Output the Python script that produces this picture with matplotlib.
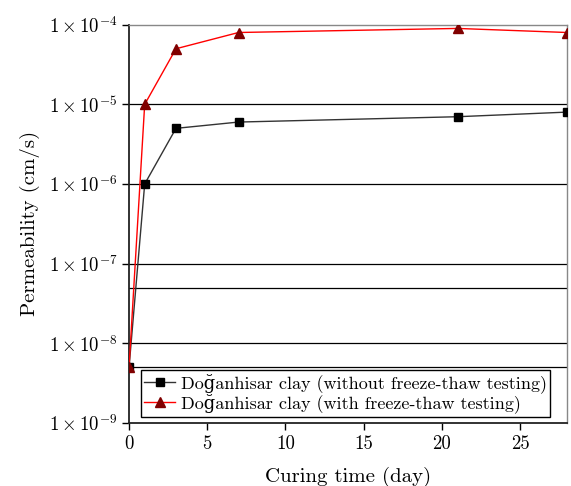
import math
import matplotlib
matplotlib.use("Agg")
import matplotlib.pyplot as plt
from matplotlib.ticker import FixedLocator, FuncFormatter

plt.rcParams['font.family'] = ['cmr10', 'DejaVu Serif']
plt.rcParams['mathtext.fontset'] = 'cm'
plt.rcParams['axes.unicode_minus'] = False

# data
days = [0, 1, 3, 7, 21, 28]
perm_no_ft = [5e-9, 1e-6, 5e-6, 6e-6, 7e-6, 8e-6]
perm_ft = [5e-9, 1e-5, 5e-5, 8e-5, 9e-5, 8e-5]
grid_levels = [1e-5, 1e-6, 1e-7, 5e-8, 1e-8, 5e-9]
y_ticks = [1e-9, 1e-8, 1e-7, 1e-6, 1e-5, 1e-4]
x_ticks = [0, 5, 10, 15, 20, 25]

fig = plt.figure(figsize=(5.71, 4.86), dpi=100)
ax = fig.add_axes([0.226, 0.130, 0.767, 0.819])

for g in grid_levels:
    ax.axhline(g, color='black', lw=0.9, zorder=1)

ax.plot(days, perm_no_ft, color='#333333', lw=1.0, marker='s', ms=5.5,
        mfc='black', mec='black', zorder=3,
        label='Do\u011fanhisar clay (without freeze-thaw testing)')
ax.plot(days, perm_ft, color='red', lw=1.0, marker='^', ms=6.5,
        mfc='#800000', mec='#800000', zorder=3,
        label='Do\u011fanhisar clay (with freeze-thaw testing)')

ax.set_yscale('log')
ax.set_ylim(1e-9, 1e-4)
ax.set_xlim(0, 28)
ax.yaxis.set_major_locator(FixedLocator(y_ticks))
ax.yaxis.set_minor_locator(FixedLocator([]))
ax.yaxis.set_major_formatter(FuncFormatter(
    lambda v, p: r'$1\times10^{%d}$' % round(math.log10(v))))
ax.set_xticks(x_ticks)

ax.tick_params(axis='both', direction='out', length=5, width=1, labelsize=13.5)
for s in ['left', 'bottom']:
    ax.spines[s].set_linewidth(1.3)
    ax.spines[s].set_color('#222222')
for s in ['top', 'right']:
    ax.spines[s].set_linewidth(1.0)
    ax.spines[s].set_color('#888888')

ax.set_xlabel('Curing time (day)', fontsize=15, labelpad=10)
ax.set_ylabel('Permeability (cm/s)', fontsize=15, labelpad=6)

leg = ax.legend(loc='lower left', bbox_to_anchor=(0.027, 0.015), fontsize=13,
                frameon=True, fancybox=False, handlelength=1.7,
                borderpad=0.2, labelspacing=0.0, handletextpad=0.3,
                borderaxespad=0.0)
leg.get_frame().set_edgecolor('black')
leg.get_frame().set_linewidth(1.0)
leg.get_frame().set_alpha(1)

fig.savefig('out.png', dpi=100)
